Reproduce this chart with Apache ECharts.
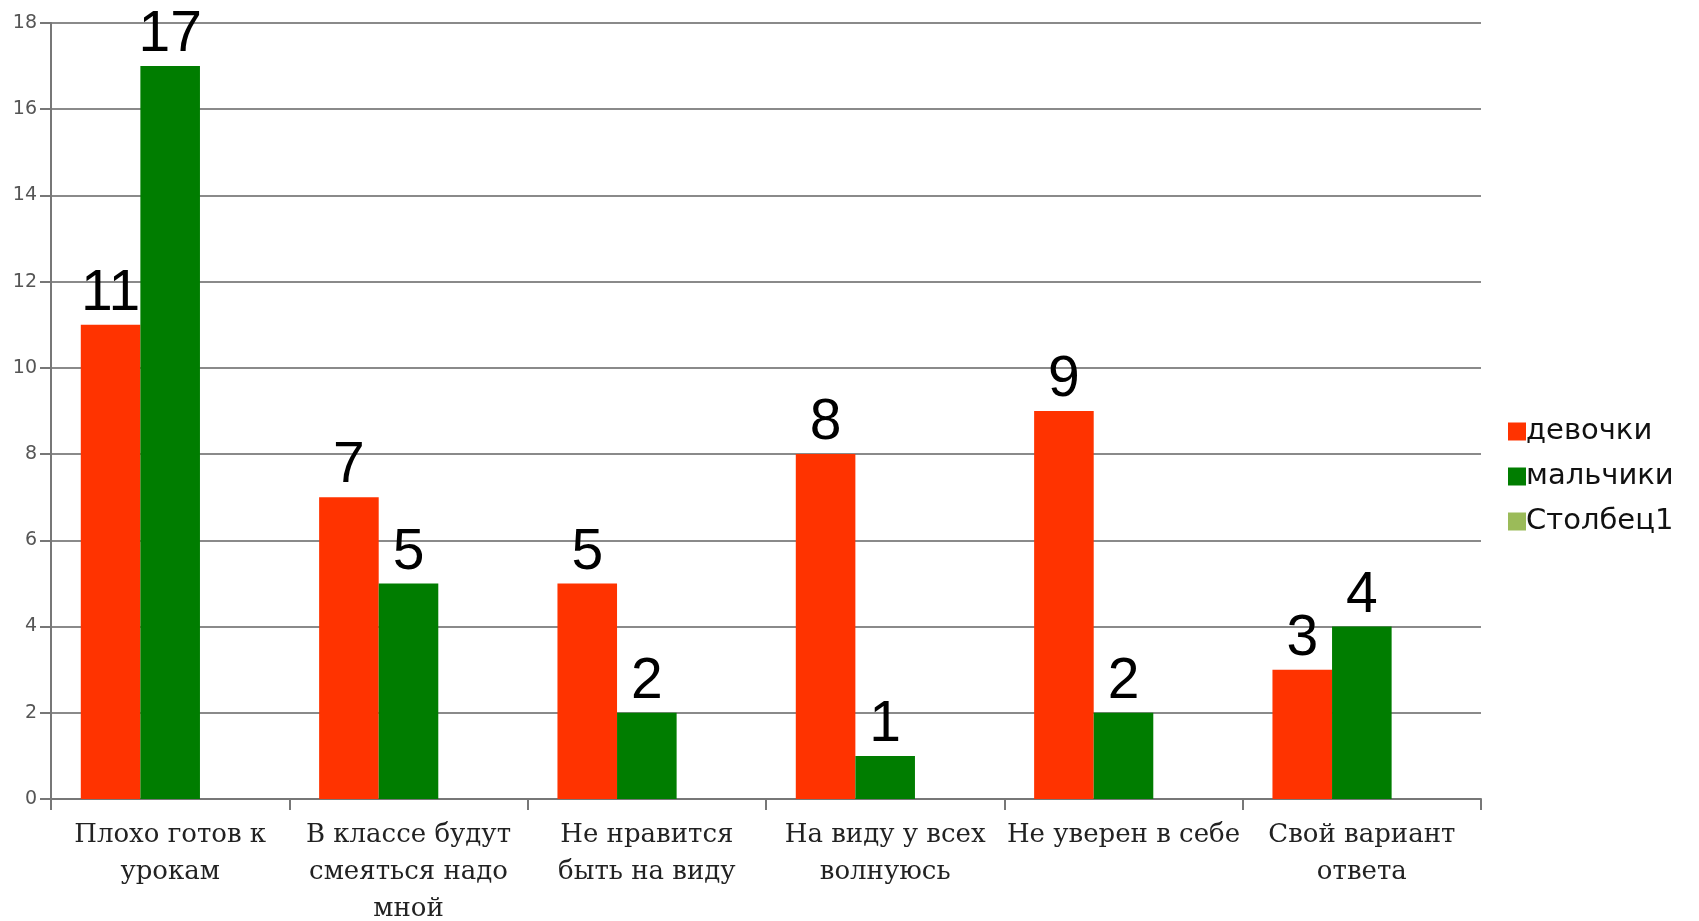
<!DOCTYPE html>
<html>
<head>
  <meta charset="utf-8">
  <title>Причины волнения</title>
  <script src="https://cdn.jsdelivr.net/npm/echarts@6/dist/echarts.min.js"></script>
  <style>
    html, body { margin: 0; padding: 0; background: #fff; }
    #main { width: 1699px; height: 921px; }
  </style>
</head>
<body>
<div id="main"></div>
<script>
// данные с картинки
var categories = [
  'Плохо готов к\nурокам',
  'В классе будут\nсмеяться надо\nмной',
  'Не нравится\nбыть на виду',
  'На виду у всех\nволнуюсь',
  'Не уверен в себе',
  'Свой вариант\nответа'
];
var girls = [11, 7, 5, 8, 9, 3];
var boys = [17, 5, 2, 1, 2, 4];
var col1 = [null, null, null, null, null, null];   // пустой столбец
var yTicks = { min: 0, max: 18, step: 2 };

var bigLabel = {
  show: true,
  position: 'top',
  distance: 2,
  color: '#000',
  fontFamily: 'Liberation Sans',
  fontSize: 57
};

var myChart = echarts.init(document.getElementById('main'));
var option = {
  animation: false,
  backgroundColor: '#fff',
  grid: { left: 51, right: 218, top: 23, bottom: 122, outerBoundsMode: 'none', containLabel: false },
  legend: {
    orient: 'vertical',
    left: 1503,
    top: 412,
    itemWidth: 18,
    itemHeight: 18,
    itemGap: 16,
    icon: 'rect',
    textStyle: { fontFamily: 'DejaVu Sans', fontSize: 29, color: '#111', padding: [0, 0, 0, -5] },
    data: ['девочки', 'мальчики', 'Столбец1']
  },
  xAxis: {
    type: 'category',
    data: categories,
    axisLine: { lineStyle: { color: '#777', width: 2 } },
    axisTick: { show: true, length: 11, lineStyle: { color: '#777', width: 2 } },
    axisLabel: {
      interval: 0,
      margin: 18,
      fontFamily: 'DejaVu Serif',
      fontSize: 26,
      lineHeight: 37,
      color: '#222'
    }
  },
  yAxis: {
    type: 'value',
    min: yTicks.min,
    max: yTicks.max,
    interval: yTicks.step,
    axisLine: { show: true, lineStyle: { color: '#777', width: 2 } },
    axisTick: { show: true, length: 11, lineStyle: { color: '#777', width: 2 } },
    axisLabel: { margin: 14, fontFamily: 'DejaVu Sans', fontSize: 19, color: '#555' },
    splitLine: { lineStyle: { color: '#8a8a8a', width: 2 } }
  },
  series: [
    {
      name: 'девочки', type: 'bar', data: girls,
      barGap: 0, barCategoryGap: '25%',
      itemStyle: { color: '#ff3300' },
      label: bigLabel
    },
    {
      name: 'мальчики', type: 'bar', data: boys,
      barGap: 0, barCategoryGap: '25%',
      itemStyle: { color: '#007d00' },
      label: bigLabel
    },
    {
      name: 'Столбец1', type: 'bar', data: col1,
      barGap: 0, barCategoryGap: '25%',
      itemStyle: { color: '#9bbb59' }
    }
  ]
};
myChart.setOption(option);
</script>
</body>
</html>
